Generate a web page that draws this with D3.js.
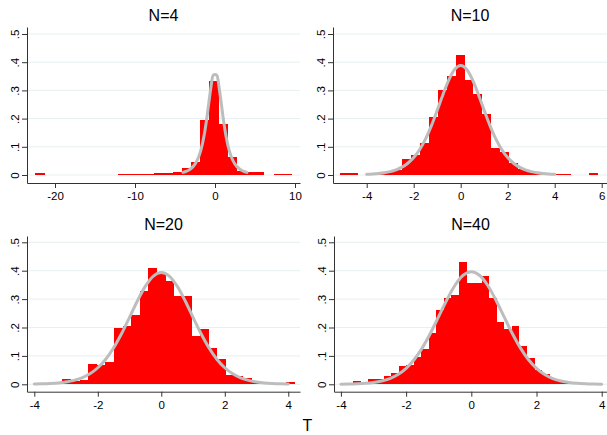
<!DOCTYPE html>
<html><head><meta charset="utf-8">
<script src="https://cdn.jsdelivr.net/npm/d3@7"></script>
<style>
body{margin:0;background:#fff}
svg{display:block}
text{font-family:"Liberation Sans",Arial,Helvetica,sans-serif;fill:#000}
</style>
</head><body>
<svg id="chart" width="607" height="435"></svg>
<script>
// ---------------- data ----------------
const titles = ["N=4", "N=10", "N=20", "N=40"];
const xTitle = "T";

// histogram bins: first lower edge, bin width, densities
const binStart = [-22.45, -5.13, -3.117, -3.62];
const binWidth = [1.145, 0.378, 0.2714, 0.2317];

const hist4 = [0.006, 0, 0, 0, 0, 0, 0, 0, 0, 0.004, 0.004, 0.004, 0.005, 0.006,
  0.008, 0.012, 0.025, 0.047, 0.195, 0.333, 0.181, 0.065, 0.014, 0.011, 0.009, 0, 0.005, 0.005];
const hist10 = [0.006, 0.006, 0, 0, 0.006, 0.01, 0.018, 0.057, 0.071, 0.112, 0.204, 0.30,
  0.35, 0.425, 0.337, 0.286, 0.216, 0.097, 0.08, 0.043, 0.022, 0.012, 0.007, 0.005, 0.004,
  0.004, 0, 0, 0.006];
const hist20 = [0.02, 0.012, 0.015, 0.072, 0.068, 0.08, 0.198, 0.205, 0.245, 0.33, 0.408,
  0.39, 0.365, 0.31, 0.31, 0.17, 0.195, 0.127, 0.088, 0.033, 0.03, 0.023, 0.012, 0.006,
  0.004, 0.003, 0.008];
const hist40 = [0.01, 0.004, 0.018, 0.018, 0.03, 0.04, 0.065, 0.068, 0.095, 0.125, 0.18,
  0.26, 0.305, 0.315, 0.43, 0.355, 0.355, 0.38, 0.305, 0.22, 0.195, 0.205, 0.135, 0.092,
  0.05, 0.035, 0.02, 0.01, 0.005];

// density curves (grey line), read at these T values
const curveX = [-4, -3.75, -3.5, -3.25, -3, -2.75, -2.5, -2.25, -2, -1.75, -1.5, -1.25, -1,
  -0.75, -0.5, -0.25, 0, 0.25, 0.5, 0.75, 1, 1.25, 1.5, 1.75, 2, 2.25, 2.5, 2.75, 3, 3.25,
  3.5, 3.75, 4];
const dens4 = [0.0092, 0.0114, 0.0142, 0.0180, 0.0230, 0.0297, 0.0387, 0.0509, 0.0675, 0.0900,
  0.1200, 0.1589, 0.2068, 0.2607, 0.3132, 0.3528, 0.356, 0.3528, 0.3132, 0.2607, 0.2068,
  0.1589, 0.1200, 0.0900, 0.0675, 0.0509, 0.0387, 0.0297, 0.0230, 0.0180, 0.0142, 0.0114, 0.0092];
const dens10 = [0.0023, 0.0035, 0.0053, 0.0080, 0.0121, 0.0184, 0.0278, 0.0417, 0.0617, 0.0897,
  0.1271, 0.1743, 0.2291, 0.2865, 0.3383, 0.3748, 0.388, 0.3748, 0.3383, 0.2865, 0.2291,
  0.1743, 0.1271, 0.0897, 0.0617, 0.0417, 0.0278, 0.0184, 0.0121, 0.0080, 0.0053, 0.0035, 0.0023];
const dens20 = [0.0009, 0.0015, 0.0027, 0.0047, 0.0082, 0.0138, 0.0229, 0.0371, 0.0583, 0.0884,
  0.1287, 0.1788, 0.2359, 0.2943, 0.3457, 0.3813, 0.394, 0.3813, 0.3457, 0.2943, 0.2359,
  0.1788, 0.1287, 0.0884, 0.0583, 0.0371, 0.0229, 0.0138, 0.0082, 0.0047, 0.0027, 0.0015, 0.0009];
const dens40 = [0.0004, 0.0008, 0.0017, 0.0033, 0.0062, 0.0114, 0.0203, 0.0345, 0.0562, 0.0874,
  0.1291, 0.1807, 0.2389, 0.2977, 0.3488, 0.3839, 0.3964, 0.3839, 0.3488, 0.2977, 0.2389,
  0.1807, 0.1291, 0.0874, 0.0562, 0.0345, 0.0203, 0.0114, 0.0062, 0.0033, 0.0017, 0.0008, 0.0004];

const xTicks4 = [-20, -10, 0, 10];
const xTicks10 = [-4, -2, 0, 2, 4, 6];
const xTicks20 = [-4, -2, 0, 2, 4];
const xTicks40 = [-4, -2, 0, 2, 4];
const yTicks = [0, 0.1, 0.2, 0.3, 0.4, 0.5];
const yTickLabels = ["0", ".1", ".2", ".3", ".4", ".5"];

// ---------------- layout ----------------
const hists = [hist4, hist10, hist20, hist40];
const denss = [dens4, dens10, dens20, dens40];
const xTickSets = [xTicks4, xTicks10, xTicks20, xTicks40];
const layout = [
  {x0: 27,  x1: 300, xd: [-23.5, 10.625], yZero: 175,   yHalf: 34,    axisY: 183,   axisTop: 27,  titleY: 21},
  {x0: 333, x1: 607, xd: [-5.434, 6.226], yZero: 175,   yHalf: 34,    axisY: 183,   axisTop: 27,  titleY: 21},
  {x0: 27,  x1: 300, xd: [-4.230, 4.369], yZero: 384.3, yHalf: 242.3, axisY: 391.7, axisTop: 236, titleY: 230},
  {x0: 334, x1: 607, xd: [-4.212, 4.162], yZero: 384.3, yHalf: 242.3, axisY: 391.7, axisTop: 236, titleY: 230}
];

const svg = d3.select("#chart");
svg.append("rect").attr("width", 607).attr("height", 435).attr("fill", "#fff");

layout.forEach((L, p) => {
  const g = svg.append("g");
  const xs = d3.scaleLinear().domain(L.xd).range([L.x0, L.x1]);
  const slope = (L.yZero - L.yHalf) / 0.5;
  const yLow = -(L.axisY - L.yZero) / slope;
  const yHigh = 0.5 + (L.yHalf - L.axisTop) / slope;
  const ys = d3.scaleLinear().domain([yLow, yHigh]).range([L.axisY, L.axisTop]);

  // gridlines
  g.selectAll(".grid").data(yTicks).join("line")
    .attr("x1", L.x0).attr("x2", L.x1)
    .attr("y1", d => ys(d)).attr("y2", d => ys(d))
    .attr("stroke", "#e6eff1").attr("stroke-width", 1);

  // histogram bars (snapped to whole pixels so neighbouring bars meet without seams)
  const bins = hists[p].map((h, i) => ({
    lo: binStart[p] + i * binWidth[p],
    hi: binStart[p] + (i + 1) * binWidth[p],
    h: h
  })).filter(b => b.h > 0);
  g.selectAll(".bar").data(bins).join("rect")
    .attr("x", d => Math.round(xs(d.lo)))
    .attr("width", d => Math.round(xs(d.hi)) - Math.round(xs(d.lo)))
    .attr("y", d => Math.min(Math.round(ys(d.h)), Math.round(ys(0)) - 1))
    .attr("height", d => Math.round(ys(0)) - Math.min(Math.round(ys(d.h)), Math.round(ys(0)) - 1))
    .attr("fill", "#ff0000")
    .attr("shape-rendering", "crispEdges");

  // density curve
  const line = d3.line()
    .x((d, i) => xs(curveX[i]))
    .y(d => ys(d))
    .curve(d3.curveMonotoneX);
  g.append("path").datum(denss[p])
    .attr("d", line)
    .attr("fill", "none")
    .attr("stroke", "#bdbdbd")
    .attr("stroke-width", 3)
    .attr("stroke-linecap", "round")
    .attr("stroke-linejoin", "round");

  // x axis
  const xAxis = d3.axisBottom(xs).tickValues(xTickSets[p]).tickFormat(d3.format("d"))
    .tickSize(5).tickSizeOuter(0).tickPadding(4);
  const gx = g.append("g").attr("transform", `translate(0,${L.axisY})`).call(xAxis);
  gx.select(".domain").attr("stroke", "#333");
  gx.selectAll(".tick line").attr("stroke", "#333");
  gx.selectAll("text").attr("font-size", "11.5px").attr("fill", "#000")
    .style("font-family", '"Liberation Sans", Arial, sans-serif')
    .text(d => (d < 0 ? "-" + Math.abs(d) : String(d)));

  // y axis
  const yAxis = d3.axisLeft(ys).tickValues(yTicks).tickFormat((d, i) => yTickLabels[i])
    .tickSize(5).tickSizeOuter(0).tickPadding(3);
  const gy = g.append("g").attr("transform", `translate(${L.x0},0)`).call(yAxis);
  gy.select(".domain").attr("stroke", "#333");
  gy.selectAll(".tick line").attr("stroke", "#333");
  gy.selectAll("text")
    .attr("transform", "rotate(-90)")
    .attr("x", 0).attr("y", -8).attr("dy", "0")
    .attr("text-anchor", "middle")
    .attr("font-size", "11.5px").attr("fill", "#000")
    .style("font-family", '"Liberation Sans", Arial, sans-serif');

  // panel title
  g.append("text")
    .attr("x", (L.x0 + L.x1) / 2).attr("y", L.titleY)
    .attr("text-anchor", "middle")
    .attr("font-size", "16px")
    .text(titles[p]);
});

svg.append("text")
  .attr("x", 307.5).attr("y", 431)
  .attr("text-anchor", "middle")
  .attr("font-size", "16px")
  .text(xTitle);
</script>
</body></html>
